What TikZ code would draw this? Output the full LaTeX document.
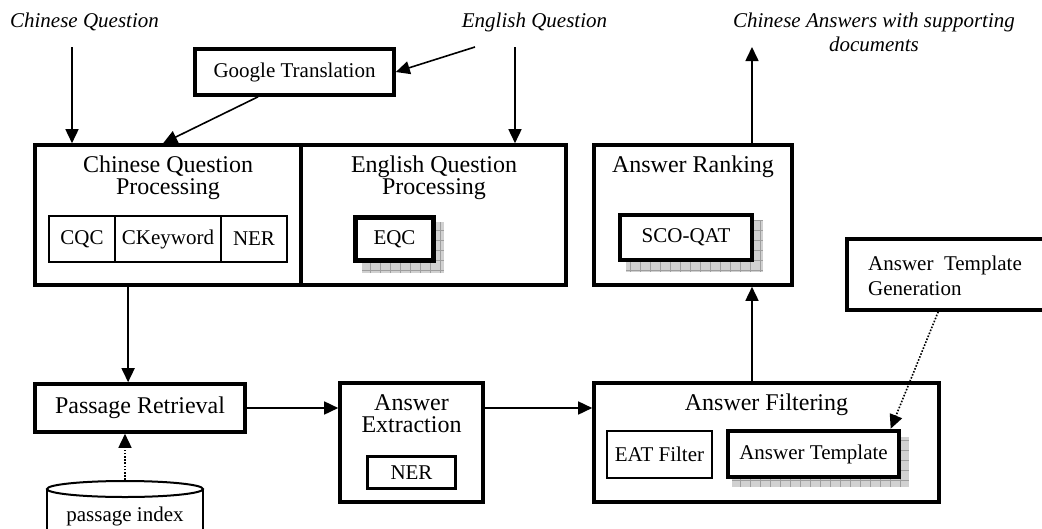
\documentclass[tikz,border=0pt]{standalone}
\usepackage{fontspec}
\setmainfont{Liberation Serif}
\usetikzlibrary{arrows.meta,calc}
\newcommand{\placebox}[7]{\node[#2, minimum width={#5-#3}, minimum height={#6-#4}] (#1) at ({(#3+#5)/2},{(#4+#6)/2}) {#7};}
\begin{document}
\begin{tikzpicture}[x=1pt,y=-1pt,
  T/.style={font=\fontsize{24}{22}\selectfont},
  S/.style={font=\fontsize{21}{22}\selectfont},
  lbl/.style={font=\fontsize{21}{24}\selectfont\itshape, inner sep=0},
  outerbox/.style={draw, line width=3.6pt, fill=white, inner sep=0, T},
  innerbox/.style={draw, line width=2.2pt, fill=white, inner sep=0, S},
  nerbox/.style={draw, line width=2.8pt, fill=white, inner sep=0, S},
  heavybox/.style={draw, line width=4.6pt, fill=white, inner sep=0, S},
  shadowbg/.style={fill=black!18},
  shadowgrid/.style={draw=black!38, line width=0.5pt},
  arr/.style={line width=1.6pt, -{Triangle[length=14pt,width=13pt]}},
  darr/.style={arr, dash pattern=on 1.6pt off 1.6pt},
  ttl/.style={T, inner sep=0, align=center},
]
\useasboundingbox (0,0) rectangle (1042,528);
\clip (0,0) rectangle (1042,528);

% top labels
\node[lbl, anchor=base] (cql) at (84.5,27) {Chinese Question};
\node[lbl, anchor=base] (eql) at (534.5,27) {English Question};
\node[lbl, anchor=north, align=center] (cal) at (874,12.7) {Chinese Answers with supporting\\documents};

% Google translation
\placebox{gt}{outerbox,S}{195}{49}{394}{95}{Google Translation}

% question processing
\placebox{cqp}{outerbox}{35}{145}{301}{285}{}
\placebox{eqp}{outerbox}{301}{145}{566}{285}{}
\node[ttl, anchor=north] (cqpt) at (168,155.7) {Chinese Question\\Processing};
\node[ttl, anchor=north] (eqpt) at (434,155.7) {English Question\\Processing};
\placebox{cqc}{innerbox}{49}{216}{115}{262}{CQC}
\placebox{ckw}{innerbox}{115}{216}{221}{262}{CKeyword}
\placebox{nera}{innerbox}{221}{216}{287}{262}{NER}
\fill[shadowbg] (362,222) rectangle (444,273);
\draw[shadowgrid, step=10pt] (362,222) grid (444,273);
\placebox{eqc}{heavybox}{355.3}{217.3}{433.7}{260.7}{EQC}

% answer ranking
\placebox{ar}{outerbox}{594}{145}{792}{285}{}
\node[T, inner sep=0, anchor=base] (art) at (693,172) {Answer Ranking};
\fill[shadowbg] (626,220) rectangle (763,272);
\draw[shadowgrid, step=10pt] (626,220) grid (763,272);
\placebox{sco}{heavybox}{620}{215}{752}{260}{SCO-QAT}

% answer template generation
\placebox{atg}{outerbox}{847}{239}{1070}{310}{}
\node[S, inner sep=0, anchor=north west, align=left] (atgt) at (868,255.5) {Answer\hspace{0.5em}Template\\[3pt]Generation};

% passage retrieval
\placebox{pr}{outerbox}{35}{384}{245}{432}{Passage Retrieval}

% answer extraction
\placebox{ae}{outerbox}{340}{383}{483}{502}{}
\node[ttl, anchor=north] (aet) at (411.5,394) {Answer\\Extraction};
\placebox{nerb}{nerbox}{367.4}{456.4}{455.6}{488.6}{NER}

% answer filtering
\placebox{af}{outerbox}{594}{383}{939}{502}{}
\node[T, inner sep=0, anchor=base] (aft) at (766.5,410) {Answer Filtering};
\placebox{eat}{innerbox}{607}{431}{712}{478}{EAT Filter}
\fill[shadowbg] (732,437) rectangle (909,487);
\draw[shadowgrid, step=10pt] (732,437) grid (909,487);
\placebox{at}{heavybox}{728}{431}{899}{477}{Answer Template}

% passage index cylinder
\filldraw[fill=white, line width=2pt] (47,489) -- (47,540) -- (203,540) -- (203,489);
\draw[line width=2pt, fill=white] (125,489) ellipse [x radius=78, y radius=8];
\coordinate (pitop) at (125,480);
\node[S, inner sep=0, anchor=base] (pi) at (125,521) {passage index};

% connectors
\coordinate (cqs) at (72,47);
\coordinate (eqs1) at (475,47);
\coordinate (eqs2) at (515,47);
\coordinate (cas) at (752,47);
\draw[arr] (cqs) -- (cqs |- cqp.north);
\draw[arr] (eqs1) -- (gt.east);
\draw[arr] (eqs2) -- (eqs2 |- eqp.north);
\draw[arr] ($(gt.south west)!0.32!(gt.south east)$) -- ($(cqp.north west)!0.482!(cqp.north east)$);
\draw[arr] (cas |- ar.north) -- (cas);
\draw[arr] (cas |- af.north) -- (cas |- ar.south);
\coordinate (cqo) at ($(cqp.south west)!0.352!(cqp.south east)$);
\draw[arr] (cqo) -- (cqo |- pr.north);
\draw[arr] (pr.east) -- (pr.east -| ae.west);
\draw[arr] (pr.east -| ae.east) -- (pr.east -| af.west);
\draw[darr] (pitop) -- (pitop |- pr.south);
\draw[darr] ($(atg.south west)+(93,0)$) -- ($(at.north west)+(165,0)$);
\end{tikzpicture}
\end{document}
